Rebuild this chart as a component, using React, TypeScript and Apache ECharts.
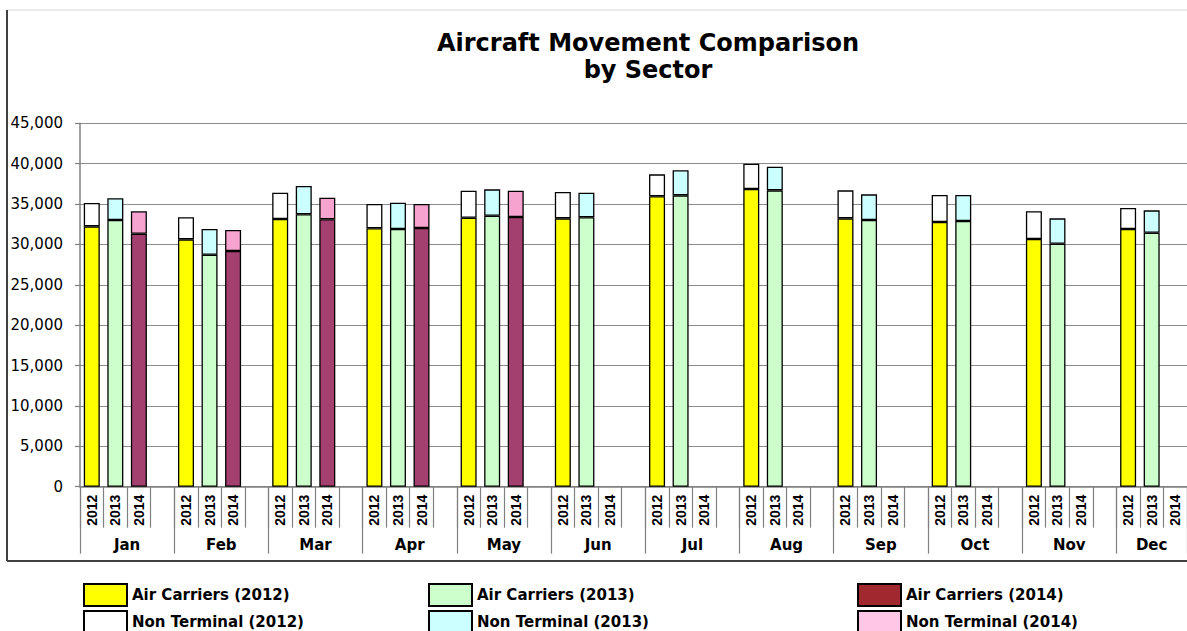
import React, { useEffect, useRef } from "react";
import * as echarts from "echarts";

const months = ["Jan", "Feb", "Mar", "Apr", "May", "Jun", "Jul", "Aug", "Sep", "Oct", "Nov", "Dec"];
const years = ["2012", "2013", "2014"];

const airCarriers2012 = [32240, 30630, 33150, 32000, 33310, 33230, 35960, 36860, 33230, 32780, 30670, 31910];
const nonTerminal2012 = [2890, 2730, 3250, 3000, 3340, 3260, 2720, 3140, 3470, 3340, 3430, 2600];
const airCarriers2013 = [33020, 28730, 33730, 31910, 33560, 33360, 36080, 36700, 33020, 32900, 30090, 31450];
const nonTerminal2013 = [2690, 3180, 3500, 3260, 3260, 3040, 3100, 2920, 3180, 3220, 3140, 2770];
const airCarriers2014 = [31330, 29190, 33110, 32030, 33390];
const nonTerminal2014 = [2770, 2600, 2680, 2970, 3260];

const yTicks = [0, 5000, 10000, 15000, 20000, 25000, 30000, 35000, 40000, 45000];

// Build slots: each month has 3 year slots, followed by an empty gap slot (except last month)
const slots: { key: string; label: string }[] = [];
const monthStart: number[] = [];
const monthCenter: number[] = [];
months.forEach((m, mi) => {
  monthStart.push(slots.length);
  years.forEach((y) => slots.push({ key: `${m} ${y}`, label: y }));
  if (mi < months.length - 1) slots.push({ key: `${m} gap`, label: "" });
});
months.forEach((m, mi) => {
  const s = monthStart[mi];
  const e = mi < months.length - 1 ? monthStart[mi + 1] : slots.length;
  monthCenter.push((s + e) / 2);
});
const boundaries = [...monthStart, slots.length];

function place(values: number[], yearIdx: number) {
  const out: (number | string)[] = slots.map(() => "-");
  values.forEach((v, mi) => {
    out[monthStart[mi] + yearIdx] = v;
  });
  return out;
}

const border = { borderColor: "#000", borderWidth: 1.3 };

export default function App() {
  const ref = useRef<HTMLDivElement>(null);
  useEffect(() => {
    if (!ref.current) return;
    const chart = echarts.init(ref.current, undefined, { renderer: "svg" });
    const mk = (name: string, data: (number | string)[], color: string) => ({
      name,
      type: "bar",
      stack: "total",
      barWidth: 16,
      xAxisIndex: 0,
      data,
      itemStyle: { color, ...border },
    });
    const legendText = {
      fontFamily: "DejaVu Sans",
      fontWeight: "bold",
      fontSize: 15,
      color: "#000",
    };
    const legendBase = {
      orient: "vertical",
      itemWidth: 43,
      itemHeight: 22,
      itemGap: 3,
      padding: 0,
      height: 80,
      width: 300,
      icon: "rect",
      selectedMode: false,
      textStyle: legendText,
    };
    chart.setOption({
      animation: false,
      backgroundColor: "#fff",
      title: {
        text: "Aircraft Movement Comparison\nby Sector",
        left: 648,
        top: 29,
        textAlign: "center",
        padding: 0,
        textStyle: {
          fontFamily: "DejaVu Sans",
          fontWeight: "bold",
          fontSize: 24,
          lineHeight: 27,
          color: "#000",
        },
      },
      grid: { left: 80, right: 0, top: 123.3, bottom: 144.3, containLabel: false },
      xAxis: [
        {
          type: "category",
          data: slots.map((s) => s.key),
          boundaryGap: true,
          axisLine: { show: true, lineStyle: { color: "#808080", width: 1.5 } },
          axisTick: { show: true, interval: 0, length: 41, lineStyle: { color: "#808080", width: 1.2 } },
          axisLabel: {
            interval: 0,
            rotate: 90,
            margin: 8,
            formatter: (_v: string, i: number) => slots[i].label,
            fontFamily: "Liberation Sans",
            fontWeight: "bold",
            fontSize: 14,
            color: "#000",
          },
          splitLine: { show: false },
        },
        {
          type: "value",
          min: 0,
          max: slots.length,
          position: "bottom",
          axisLine: { show: false },
          splitLine: { show: false },
          axisTick: {
            show: true,
            customValues: boundaries,
            length: 67,
            lineStyle: { color: "#808080", width: 1.2 },
          },
          axisLabel: {
            customValues: monthCenter,
            formatter: (v: number) => {
              const i = monthCenter.indexOf(v);
              return i >= 0 ? months[i] : "";
            },
            margin: 51,
            fontFamily: "DejaVu Sans",
            fontWeight: "bold",
            fontSize: 15,
            color: "#000",
          },
        },
      ],
      yAxis: {
        type: "value",
        min: yTicks[0],
        max: yTicks[yTicks.length - 1],
        interval: yTicks[1] - yTicks[0],
        axisLine: { show: true, lineStyle: { color: "#808080", width: 1.5 } },
        axisTick: { show: true, length: 5, lineStyle: { color: "#808080", width: 1.2 } },
        splitLine: { show: true, lineStyle: { color: "#8c8c8c", width: 1.2 } },
        axisLabel: {
          margin: 17,
          formatter: (v: number) => v.toLocaleString("en-US"),
          fontFamily: "DejaVu Sans",
          fontSize: 15,
          color: "#000",
        },
      },
      legend: [
        { ...legendBase, left: 83, top: 583, data: ["Air Carriers (2012)", "Non Terminal (2012)"] },
        { ...legendBase, left: 428, top: 583, data: ["Air Carriers (2013)", "Non Terminal (2013)"] },
        {
          ...legendBase,
          left: 857,
          top: 583,
          data: [
            { name: "Air Carriers (2014)", itemStyle: { color: "#A0282E" } },
            { name: "Non Terminal (2014)", itemStyle: { color: "#FFC6E6" } },
          ],
        },
      ],
      graphic: [
        { type: "line", shape: { x1: 7, y1: 10, x2: 1187, y2: 10 }, style: { stroke: "#d8d8d8", lineWidth: 1 } },
        { type: "line", shape: { x1: 7, y1: 10, x2: 7, y2: 561 }, style: { stroke: "#404040", lineWidth: 2 } },
        { type: "line", shape: { x1: 7, y1: 561, x2: 1187, y2: 561 }, style: { stroke: "#404040", lineWidth: 2 } },
      ],
      series: [
        mk("Air Carriers (2012)", place(airCarriers2012, 0), "#FFFF00"),
        mk("Non Terminal (2012)", place(nonTerminal2012, 0), "#FFFFFF"),
        mk("Air Carriers (2013)", place(airCarriers2013, 1), "#CCFFCC"),
        mk("Non Terminal (2013)", place(nonTerminal2013, 1), "#CCFFFF"),
        mk("Air Carriers (2014)", place(airCarriers2014, 2), "#A3406F"),
        mk("Non Terminal (2014)", place(nonTerminal2014, 2), "#F7A3D0"),
      ],
    });
    return () => chart.dispose();
  }, []);
  return (
    <div style={{ position: "fixed", left: 0, top: 0, width: 1187, height: 631, overflow: "hidden", background: "#fff" }}>
      <div ref={ref} style={{ width: 1187, height: 631 }} />
    </div>
  );
}
